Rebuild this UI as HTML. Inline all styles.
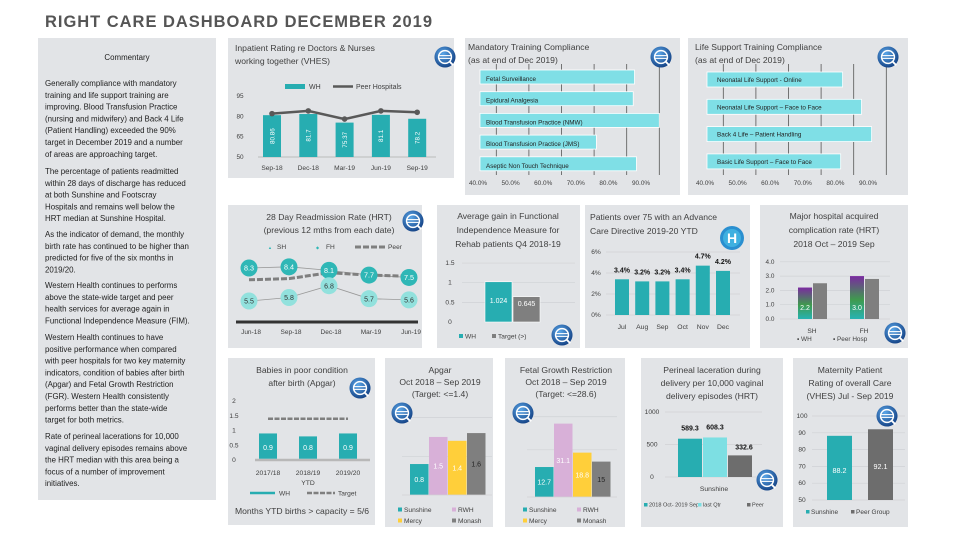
<!DOCTYPE html>
<html><head><meta charset="utf-8">
<style>
html,body{margin:0;padding:0;background:#fff;}
svg{display:block;font-family:"Liberation Sans",sans-serif;}
.pt{font-size:8.6px;fill:#404040;}
.ax{font-size:6.6px;fill:#404040;}
.cm{font-size:7.9px;fill:#222;}
</style></head><body>
<svg id="chart" width="960" height="540" viewBox="0 0 960 540" xmlns="http://www.w3.org/2000/svg">
<defs>
<radialGradient id="icg" cx="40%" cy="35%" r="70%"><stop offset="0" stop-color="#5aa6e8"/><stop offset="1" stop-color="#123f82"/></radialGradient>
<linearGradient id="hacg" x1="0" y1="0" x2="0" y2="1"><stop offset="0" stop-color="#7a2aa0"/><stop offset="0.55" stop-color="#3f9a4e"/><stop offset="1" stop-color="#27b3b2"/></linearGradient>
<symbol id="icon" viewBox="-12 -12 24 24">
<circle r="11.5" fill="url(#icg)"/>
<circle r="7" fill="none" stroke="#fff" stroke-width="1.6"/>
<line x1="-6" y1="-1.5" x2="6" y2="-1.5" stroke="#fff" stroke-width="1.2"/>
<line x1="-6" y1="1.5" x2="6" y2="1.5" stroke="#fff" stroke-width="1.2"/>
<line x1="5" y1="5" x2="9" y2="9" stroke="#fff" stroke-width="2"/>
</symbol>
</defs>
<text x="45" y="27" font-size="16.5" font-weight="bold" fill="#555" textLength="387">RIGHT CARE DASHBOARD DECEMBER 2019</text>

<g fill="#e2e4e7">
<rect x="38" y="38" width="178" height="462"/>
<rect x="228" y="38" width="226" height="140"/>
<rect x="465" y="38" width="215" height="157"/>
<rect x="688" y="38" width="220" height="157"/>
<rect x="228" y="205" width="194" height="143"/>
<rect x="437" y="205" width="143" height="143"/>
<rect x="585" y="205" width="165" height="143"/>
<rect x="760" y="205" width="148" height="143"/>
<rect x="228" y="358" width="147" height="167"/>
<rect x="385" y="358" width="108" height="169"/>
<rect x="505" y="358" width="120" height="169"/>
<rect x="641" y="358" width="142" height="169"/>
<rect x="793" y="358" width="115" height="169"/>
</g>

<g>
<text class="cm" x="127" y="60" text-anchor="middle">Commentary</text>
<text class="cm" x="45" y="86">
<tspan x="45" y="86">Generally compliance with mandatory</tspan>
<tspan x="45" y="97.8">training and life support training are</tspan>
<tspan x="45" y="109.6">improving.  Blood Transfusion Practice</tspan>
<tspan x="45" y="121.4">(nursing and midwifery) and Back 4 Life</tspan>
<tspan x="45" y="133.2">(Patient Handling) exceeded the 90%</tspan>
<tspan x="45" y="145">target in December 2019 and a number</tspan>
<tspan x="45" y="156.8">of areas are approaching target.</tspan></text>
<text class="cm" x="45" y="174">
<tspan x="45" y="174">The percentage of patients readmitted</tspan>
<tspan x="45" y="185.8">within 28 days of discharge has reduced</tspan>
<tspan x="45" y="197.6">at both Sunshine and Footscray</tspan>
<tspan x="45" y="209.4">Hospitals and remains well below the</tspan>
<tspan x="45" y="221.2">HRT median at Sunshine Hospital.</tspan></text>
<text class="cm" x="45" y="237">
<tspan x="45" y="237">As the indicator of demand, the monthly</tspan>
<tspan x="45" y="248.8">birth rate has continued to be higher than</tspan>
<tspan x="45" y="260.6">predicted for five of the six months in</tspan>
<tspan x="45" y="272.4">2019/20.</tspan></text>
<text class="cm" x="45" y="288">
<tspan x="45" y="288">Western Health continues to performs</tspan>
<tspan x="45" y="299.8">above the state-wide target and peer</tspan>
<tspan x="45" y="311.6">health services for average again in</tspan>
<tspan x="45" y="323.4">Functional Independence Measure (FIM).</tspan></text>
<text class="cm" x="45" y="340">
<tspan x="45" y="340">Western Health continues to have</tspan>
<tspan x="45" y="351.8">positive performance when compared</tspan>
<tspan x="45" y="363.6">with peer hospitals for two key maternity</tspan>
<tspan x="45" y="375.4">indicators, condition of babies after birth</tspan>
<tspan x="45" y="387.2">(Apgar) and Fetal Growth Restriction</tspan>
<tspan x="45" y="399">(FGR). Western Health consistently</tspan>
<tspan x="45" y="410.8">performs better than the state-wide</tspan>
<tspan x="45" y="422.6">target for both metrics.</tspan></text>
<text class="cm" x="45" y="439">
<tspan x="45" y="439">Rate of perineal lacerations for 10,000</tspan>
<tspan x="45" y="450.8">vaginal delivery episodes remains above</tspan>
<tspan x="45" y="462.6">the HRT median with this area being a</tspan>
<tspan x="45" y="474.4">focus of a number of improvement</tspan>
<tspan x="45" y="486.2">initiatives.</tspan></text>
</g>

<g>
<text class="pt" x="235" y="51"><tspan x="235" y="51">Inpatient Rating re Doctors &amp; Nurses</tspan><tspan x="235" y="64">working together (VHES)</tspan></text>
<text class="pt" x="468" y="50"><tspan x="468" y="50">Mandatory Training Compliance</tspan><tspan x="468" y="63">(as at end of Dec 2019)</tspan></text>
<text class="pt" x="695" y="50"><tspan x="695" y="50">Life Support Training Compliance</tspan><tspan x="695" y="63">(as at end of Dec 2019)</tspan></text>
<text class="pt" x="329" y="220" text-anchor="middle"><tspan x="329" y="220">28 Day Readmission Rate (HRT)</tspan><tspan x="329" y="233">(previous 12 mths from each date)</tspan></text>
<text class="pt" x="508" y="219" text-anchor="middle"><tspan x="508" y="219">Average gain in Functional</tspan><tspan x="508" y="233">Independence Measure for</tspan><tspan x="508" y="247">Rehab patients Q4 2018-19</tspan></text>
<text class="pt" x="590" y="220"><tspan x="590" y="220">Patients over 75 with an Advance</tspan><tspan x="590" y="234">Care Directive 2019-20 YTD</tspan></text>
<text class="pt" x="834" y="219" text-anchor="middle"><tspan x="834" y="219">Major hospital acquired</tspan><tspan x="834" y="233">complication rate (HRT)</tspan><tspan x="834" y="247">2018 Oct – 2019 Sep</tspan></text>
<text class="pt" x="302" y="373" text-anchor="middle"><tspan x="302" y="373">Babies in poor condition</tspan><tspan x="302" y="386">after birth (Apgar)</tspan></text>
<text class="pt" x="440" y="373" text-anchor="middle"><tspan x="440" y="373">Apgar</tspan><tspan x="440" y="385">Oct 2018 – Sep 2019</tspan><tspan x="440" y="397">(Target: &lt;=1.4)</tspan></text>
<text class="pt" x="566" y="373" text-anchor="middle"><tspan x="566" y="373">Fetal Growth Restriction</tspan><tspan x="566" y="385">Oct 2018 – Sep 2019</tspan><tspan x="566" y="397">(Target: &lt;=28.6)</tspan></text>
<text class="pt" x="712" y="373" text-anchor="middle"><tspan x="712" y="373">Perineal laceration during</tspan><tspan x="712" y="386">delivery per 10,000 vaginal</tspan><tspan x="712" y="399">delivery episodes (HRT)</tspan></text>
<text class="pt" x="850" y="373" text-anchor="middle"><tspan x="850" y="373">Maternity Patient</tspan><tspan x="850" y="386">Rating of overall Care</tspan><tspan x="850" y="399">(VHES) Jul - Sep 2019</tspan></text>
<text class="pt" x="302" y="514" text-anchor="middle" font-size="7.4">Months YTD births &gt; capacity = 5/6</text>
</g>
<g id="marks"></g>
<g>
<use href="#icon" x="434" y="46" width="22" height="22"/>
<use href="#icon" x="650" y="46" width="22" height="22"/>
<use href="#icon" x="877" y="46" width="22" height="22"/>
<use href="#icon" x="402" y="210" width="22" height="22"/>
<use href="#icon" x="551" y="324" width="22" height="22"/>
<use href="#icon" x="884" y="322" width="22" height="22"/>
<use href="#icon" x="349" y="377" width="22" height="22"/>
<use href="#icon" x="391" y="402" width="22" height="22"/>
<use href="#icon" x="512" y="402" width="22" height="22"/>
<use href="#icon" x="756" y="469" width="22" height="22"/>
<use href="#icon" x="876" y="405" width="22" height="22"/>
<g><circle cx="732" cy="238" r="12" fill="#2a8fd0"/><circle cx="732" cy="238" r="9" fill="#3fb0e0"/><text x="732" y="243" text-anchor="middle" font-size="14" font-weight="bold" fill="#fff">H</text></g>
</g>
</svg>
<script>
// ---- data ----
const ipCats=['Sep-18','Dec-18','Mar-19','Jun-19','Sep-19'];
const ipWH=[80.86,81.7,75.37,81.1,78.2];
const ipPeer=[82,84,78,84,83];
const ipTicks=[50,65,80,95];
const mtCats=['Fetal Surveillance','Epidural Analgesia','Blood Transfusion Practice (NMW)','Blood Transfusion Practice (JMS)','Aseptic Non Touch Technique'];
const mtVals=[87.4,87,95,75.7,88];
const pctTicks=[40,50,60,70,80,90];
const lsCats=['Neonatal Life Support - Online','Neonatal Life Support – Face to Face','Back 4 Life – Patient Handling','Basic Life Support – Face to Face'];
const lsVals=[81.6,87.4,90.5,81];
const rdCats=['Jun-18','Sep-18','Dec-18','Mar-19','Jun-19'];
const rdSH=[8.3,8.4,8.1,7.7,7.5];
const rdFH=[5.5,5.8,6.8,5.7,5.6];
const rdPeer=[7.3,7.4,7.9,7.7,7.6];
const fiCats=['WH','Target (>)'];
const fiVals=[1.024,0.645];
const fiTicks=[0,0.5,1,1.5];
const acCats=['Jul','Aug','Sep','Oct','Nov','Dec'];
const acVals=[3.4,3.2,3.2,3.4,4.7,4.2];
const acTicks=[0,2,4,6];
const hcCats=['SH','FH'];
const hcWH=[2.2,3.0];
const hcPeer=[2.5,2.8];
const hcTicks=[0,1,2,3,4];
const bbCats=['2017/18','2018/19','2019/20'];
const bbVals=[0.9,0.8,0.9];
const bbTarget=[1.4,1.4,1.4];
const bbTicks=[0,0.5,1,1.5,2];
const hospCats=['Sunshine','RWH','Mercy','Monash'];
const apVals=[0.8,1.5,1.4,1.6];
const fgVals=[12.7,31.1,18.8,15];
const peCats=['2018 Oct- 2019 Sep','last Qtr','Peer'];
const peVals=[589.3,608.3,332.6];
const peTicks=[0,500,1000];
const mpCats=['Sunshine','Peer Group'];
const mpVals=[88.2,92.1];
const mpTicks=[50,60,70,80,90,100];

const NS='http://www.w3.org/2000/svg';
const root=document.getElementById('marks');
function el(tag,attrs){const e=document.createElementNS(NS,tag);for(const k in attrs)e.setAttribute(k,attrs[k]);root.appendChild(e);return e;}
function tx(x,y,s,size,fill,anchor,extra){const e=el('text',Object.assign({x:x,y:y,'font-size':size,fill:fill,'text-anchor':anchor||'start'},extra||{}));e.textContent=s;return e;}
const TEAL='#27adb1',GREY='#7f7f7f',PINK='#d8b0d8',YEL='#ffcf3a',LCY='#7fdfe6';
let e;

// ---- Inpatient ----
const yIP=v=>157-(v-50)*(61/45), xIP=i=>272+i*36.3;
ipTicks.forEach(t=>{e=tx(240,yIP(t)+2,String(t),6.4,'#404040','middle');

});
e=el('line',{x1:258,y1:157,x2:436,y2:157,stroke:'#bbb','stroke-width':1});


ipWH.forEach((v,i)=>{e=el('rect',{x:xIP(i)-9,y:yIP(v),width:18,height:157-yIP(v),fill:TEAL});


e=tx(xIP(i)+2.3,(yIP(v)+157)/2,String(v),6.3,'#fff','middle',{transform:'rotate(-90 '+(xIP(i)+2.3)+' '+((yIP(v)+157)/2)+')'});


e=tx(xIP(i),170,ipCats[i],6.6,'#404040','middle');

});
e=el('polyline',{points:ipPeer.map((v,i)=>xIP(i)+','+yIP(v)).join(' '),fill:'none',stroke:'#595959','stroke-width':2.5});


ipPeer.forEach((v,i)=>{e=el('circle',{cx:xIP(i),cy:yIP(v),r:2.8,fill:'#595959'});

});
e=el('rect',{x:285,y:84,width:20,height:5,fill:TEAL});


e=tx(309,89,'WH',7,'#404040');


e=el('line',{x1:333,y1:86.5,x2:353,y2:86.5,stroke:'#595959','stroke-width':2.5});


e=tx(356,89,'Peer Hospitals',7,'#404040');



// ---- Horizontal training bars ----
function hbars(prefix,cats,vals,x0,rowTop,rowStep,h,centerText){
  const xs=v=>x0+(v-40)*3.26;
  [45,55,65,75,85,95].forEach(g=>{e=el('line',{x1:xs(g),y1:64,x2:xs(g),y2:175,stroke:'#555','stroke-width':0.8});
  
  });
  vals.forEach((v,i)=>{const y=rowTop+i*rowStep;
  e=el('rect',{x:x0,y:y,width:xs(v)-x0,height:h,fill:LCY,stroke:'#fff','stroke-width':0.8});
  
  
  e=tx(x0+(centerText?10:6),y+(centerText?h/2+2.5:h-3),cats[i],6.3,'#222','start');
  
  });
  pctTicks.forEach(t=>{e=tx(xs(t)-2,185,t.toFixed(1)+'%',6.4,'#404040','middle');
  
  });
}
hbars('mandatory',mtCats,mtVals,480,70,21.7,14,false);
hbars('lifesupport',lsCats,lsVals,707,72,27.3,15,true);

// ---- Readmission ----
const yRD=v=>268-(v-8.3)*11.8, xRD=i=>249+i*40;
[[rdSH,'sh'],[rdFH,'fh']].forEach(([arr,n])=>{e=el('polyline',{points:arr.map((v,i)=>xRD(i)+','+yRD(v)).join(' '),fill:'none',stroke:'#999','stroke-width':0.8});

});
e=el('polyline',{points:rdPeer.map((v,i)=>xRD(i)+','+yRD(v)).join(' '),fill:'none',stroke:'#7f7f7f','stroke-width':3,'stroke-dasharray':'6 2'});


rdSH.forEach((v,i)=>{e=el('circle',{cx:xRD(i),cy:yRD(v),r:8.5,fill:'#2fb7b6'});


e=tx(xRD(i),yRD(v)+2.6,v.toFixed(1),7.2,'#fff','middle');

});
rdFH.forEach((v,i)=>{e=el('circle',{cx:xRD(i),cy:yRD(v),r:8.5,fill:'#92e1dd'});


e=tx(xRD(i),yRD(v)+2.6,v.toFixed(1),7,'#333','middle');

});
e=el('line',{x1:236,y1:322,x2:418,y2:322,stroke:'#333','stroke-width':3});


rdCats.forEach((c,i)=>{e=tx(xRD(i)+2,334,c,6.5,'#404040','middle');

});
e=tx(268,249,'▲',4,'#2fb7b6');

e=tx(277,249,'SH',6.6,'#404040');

e=tx(316,249,'◆',4,'#2fb7b6');

e=tx(326,249,'FH',6.6,'#404040');

e=el('line',{x1:355,y1:247,x2:385,y2:247,stroke:'#7f7f7f','stroke-width':3,'stroke-dasharray':'6 2'});


e=tx(388,249,'Peer',6.6,'#404040');


// ---- FIM ----
const yFI=v=>322-v*39.3;
fiTicks.forEach(t=>{e=tx(450,yFI(t)+2,String(t),6.6,'#404040','middle');


if(t>0){e=el('line',{x1:462,y1:yFI(t),x2:575,y2:yFI(t),stroke:'#d0d2d5','stroke-width':0.7});

}});
fiVals.forEach((v,i)=>{const x=485+i*28;
e=el('rect',{x:x,y:yFI(v),width:27,height:322-yFI(v),fill:i?GREY:TEAL,stroke:'#fff','stroke-width':0.6});


e=tx(x+13.5,i?306:303,String(v),7,'#fff','middle');


e=el('rect',{x:459+i*33,y:334,width:4,height:4,fill:i?GREY:TEAL});


e=tx(465+i*33,338.5,fiCats[i],6.6,'#404040');

});

// ---- ACD ----
const yAC=v=>315-v*10.5, xAC=i=>622+i*20.2;
acTicks.forEach(t=>{e=tx(596,yAC(t)+2,t+'%',6.6,'#404040','middle');


e=el('line',{x1:606,y1:yAC(t),x2:740,y2:yAC(t),stroke:'#d0d2d5','stroke-width':0.7});

});
acVals.forEach((v,i)=>{e=el('rect',{x:xAC(i)-7,y:yAC(v),width:14,height:315-yAC(v),fill:TEAL});


e=tx(xAC(i),yAC(v)-7,v.toFixed(1)+'%',7,'#111','middle',{'font-weight':'bold'});


e=tx(xAC(i),329,acCats[i],6.8,'#404040','middle');

});

// ---- HAC ----
const yHC=v=>319-v*14.3;
hcTicks.forEach(t=>{e=tx(770,yHC(t)+2,t.toFixed(1),6.4,'#404040','middle');


e=el('line',{x1:780,y1:yHC(t),x2:890,y2:yHC(t),stroke:'#d0d2d5','stroke-width':0.7});

});
hcCats.forEach((c,i)=>{const x=798+i*52;
e=el('rect',{x:x,y:yHC(hcWH[i]),width:14,height:319-yHC(hcWH[i]),fill:'url(#hacg)'});


e=el('rect',{x:x+15,y:yHC(hcPeer[i]),width:14,height:319-yHC(hcPeer[i]),fill:GREY});


e=tx(x+7,310,hcWH[i].toFixed(1),7,'#fff','middle');


e=tx(x+14,333,c,6.6,'#404040','middle');

});
e=tx(797,341,'▪ WH',6.4,'#404040');

e=tx(833,341,'▪ Peer Hosp',6.4,'#404040');


// ---- Babies ----
const yBB=v=>460-v*29.5, xBB=i=>268+i*40;
bbTicks.forEach(t=>{e=tx(234,yBB(t)+2,String(t),6.6,'#404040','middle');

});
e=el('line',{x1:255,y1:460,x2:370,y2:460,stroke:'#b8b8b8','stroke-width':2.5});


bbVals.forEach((v,i)=>{e=el('rect',{x:xBB(i)-9,y:yBB(v),width:18,height:458.7-yBB(v),fill:TEAL});


e=tx(xBB(i),450,v.toFixed(1),7,'#fff','middle');


e=tx(xBB(i),475,bbCats[i],6.8,'#404040','middle');

});
e=el('polyline',{points:bbTarget.map((v,i)=>xBB(i)+','+yBB(v)).join(' '),fill:'none',stroke:'#7f7f7f','stroke-width':2.5,'stroke-dasharray':'5 1.5'});


e=tx(308,485,'YTD',6.8,'#404040','middle');

e=el('line',{x1:250,y1:493,x2:275,y2:493,stroke:TEAL,'stroke-width':2.5});


e=tx(279,495.5,'WH',6.6,'#404040');

e=el('line',{x1:307,y1:493,x2:335,y2:493,stroke:'#7f7f7f','stroke-width':2.5,'stroke-dasharray':'5 1.5'});


e=tx(338,495.5,'Target',6.6,'#404040');


// ---- Apgar & FGR ----
const HCOL=[TEAL,PINK,YEL,GREY];
function hospChart(prefix,vals,x0,base,k,grids,labFmt){
  const y=v=>base-v*k, x=i=>x0+i*19;
  grids.forEach(g=>{e=el('line',{x1:x0-8,y1:y(g),x2:x0+82,y2:y(g),stroke:'#d0d2d5','stroke-width':0.7});
  
  });
  vals.forEach((v,i)=>{e=el('rect',{x:x(i),y:y(v),width:18.5,height:base-y(v),fill:HCOL[i]});
  
  
  e=tx(x(i)+9.2,(y(v)+base)/2+2.5,labFmt(v),7,i===3?'#222':'#fff','middle');
  
  });
  e=el('line',{x1:x0-8,y1:base,x2:x0+82,y2:base,stroke:'#d0d2d5','stroke-width':0.7});
  
  
  hospCats.forEach((c,i)=>{const lx=x0-12+(i%2)*54, ly=512+Math.floor(i/2)*11;
  e=el('rect',{x:lx,y:ly-4.5,width:4,height:4,fill:HCOL[i]});
  
  
  e=tx(lx+6,ly,c,6.6,'#404040');
  
  });
}
hospChart('apgar',apVals,410,495,38.7,[1,2],v=>v.toFixed(1));
hospChart('fgr',fgVals,535,497,2.36,[20,34],v=>String(v));

// ---- Perineal ----
const yPE=v=>477-v*0.065;
const PCOL=[TEAL,'#7ddfe3','#6d6d6d'];
peTicks.forEach(t=>{e=tx(652,yPE(t)+2,String(t),6.6,'#404040','middle');


e=el('line',{x1:665,y1:yPE(t),x2:762,y2:yPE(t),stroke:'#d0d2d5','stroke-width':0.7});

});
peVals.forEach((v,i)=>{const x=678+i*25;
e=el('rect',{x:x,y:yPE(v),width:24,height:477-yPE(v),fill:PCOL[i]});


e=tx(x+12+(i===2?4:0),yPE(v)-(i===2?6:8),v.toFixed(1),7,'#111','middle',{'font-weight':'bold'});


e=el('rect',{x:644+[0,54,103][i],y:503,width:3.5,height:3.5,fill:PCOL[i]});


e=tx(649+[0,54,103][i],506.5,peCats[i],5.6,'#404040');

});
e=tx(714,491,'Sunshine',6.8,'#404040','middle');


// ---- Maternity ----
const yMP=v=>500-(v-50)*1.68;
mpTicks.forEach(t=>{e=tx(802,yMP(t)+2,String(t),6.6,'#404040','middle');


e=el('line',{x1:812,y1:yMP(t),x2:905,y2:yMP(t),stroke:'#d0d2d5','stroke-width':0.7});

});
mpVals.forEach((v,i)=>{const x=827+i*41;
e=el('rect',{x:x,y:yMP(v),width:25,height:500-yMP(v),fill:i?'#6d6d6d':TEAL});


e=tx(x+12.5,i?469:473,v.toFixed(1),7.2,'#fff','middle');


e=el('rect',{x:806+i*45,y:510,width:3.5,height:3.5,fill:i?'#6d6d6d':TEAL});


e=tx(811+i*45,514,mpCats[i],6.5,'#404040');

});
</script>
</body></html>
